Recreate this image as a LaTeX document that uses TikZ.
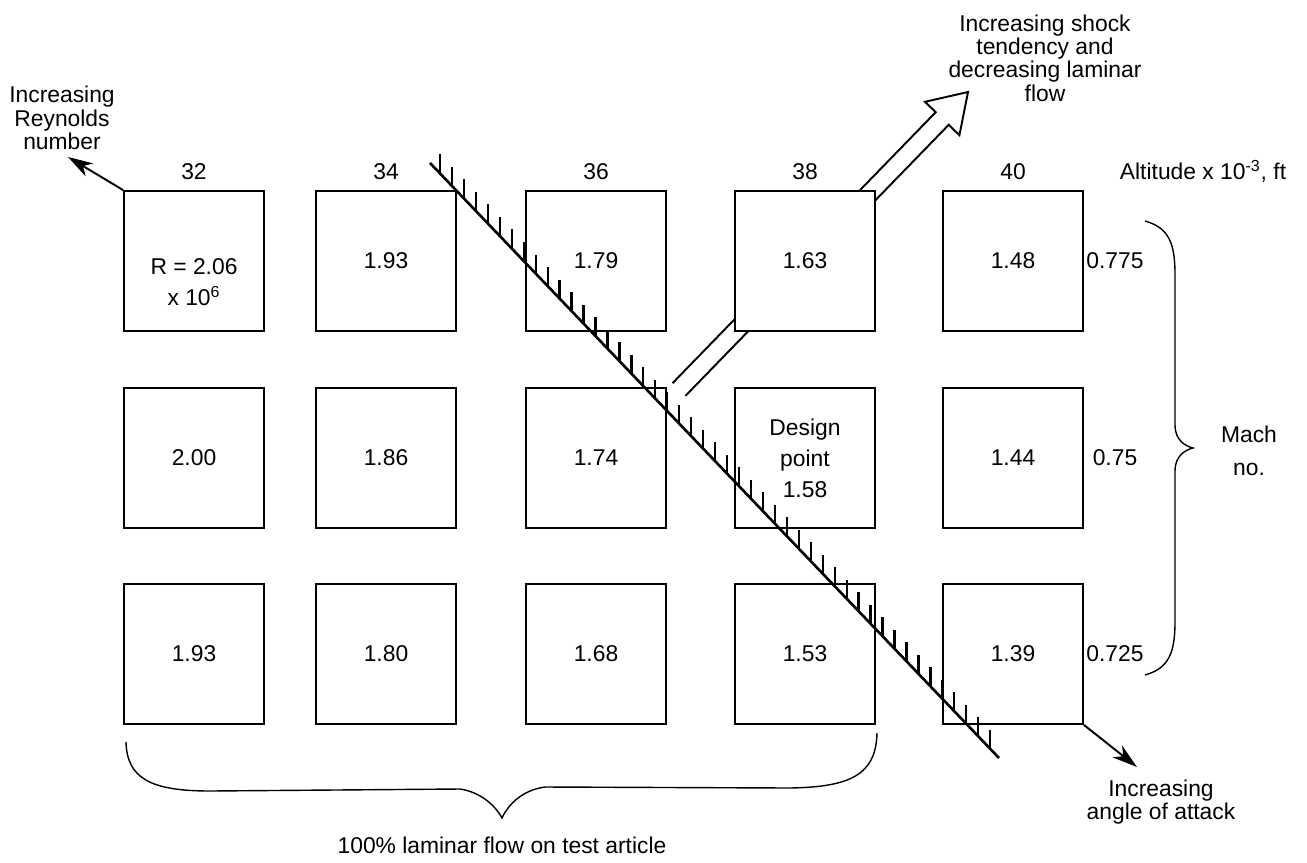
\documentclass[tikz,border=0pt]{standalone}
\usepackage{fontspec}
\setmainfont{Liberation Sans}
\usetikzlibrary{arrows.meta, positioning, calc, math}

\tikzset{
  cell/.style={draw, line width=1.1pt, fill=white, minimum width=2.8cm, minimum height=2.8cm, inner sep=0pt, align=center},
  wide/.style={align=center, font=\fontsize{13}{17.6}\selectfont},
  thinarrow/.style={line width=1.1pt, -{Stealth[length=5mm,width=3mm,inset=1.5mm]}},
  brace/.style={line width=0.8pt},
}

\begin{document}
\begin{tikzpicture}[x=0.02cm, y=-0.02cm, font=\fontsize{13}{13.3}\selectfont]
\tikzmath{
\ra=261; \rb=458; \rc=654;
}
\useasboundingbox (0,0) rectangle (1307,862);

% hollow arrow, behind the boxes
\draw[line width=1.1pt, line join=miter] (672.5,383.2) -- (935.7,112.2) -- (925,101.8) -- (968,92)
  -- (959.4,135.2) -- (948.7,124.8) -- (685.5,395.8);

%%%%%%%%%%   boxes
\node[cell] (b11) at (194,\ra) {};
\node[cell] (b12) at (386,\ra) {1.93};
\node[cell] (b13) at (596,\ra) {1.79};
\node[cell] (b14) at (805,\ra) {1.63};
\node[cell] (b15) at (1013,\ra) {1.48};

\node[cell] (b21) at (194,\rb) {2.00};
\node[cell] (b22) at (386,\rb) {1.86};
\node[cell] (b23) at (596,\rb) {1.74};
\node[cell, wide] (b24) at (805,\rb) {Design\\point\\1.58};
\node[cell] (b25) at (1013,\rb) {1.44};

\node[cell] (b31) at (194,\rc) {1.93};
\node[cell] (b32) at (386,\rc) {1.80};
\node[cell] (b33) at (596,\rc) {1.68};
\node[cell] (b34) at (805,\rc) {1.53};
\node[cell] (b35) at (1013,\rc) {1.39};

\node[wide] (rval) at ($(b11.center)+(0,21)$) {R = 2.06\\x 10\textsuperscript{6}};

%%%%%%%%%%   altitudes
\node[above=0.08cm of b11] (c32) {32};
\node[above=0.08cm of b12] (c34) {34};
\node[above=0.08cm of b13] (c36) {36};
\node[above=0.08cm of b14] (c38) {38};
\node[above=0.08cm of b15] (c40) {40};
\node[anchor=base] (alt) at ($(c40.base)+(190,0)$) {Altitude x 10\textsuperscript{-3}, ft};

%%%%%%%%%%   Mach numbers
\node (m1) at ($(b15.center)+(102,0)$) {0.775};
\node (m2) at ($(b25.center)+(102,0)$) {0.75};
\node (m3) at ($(b35.center)+(102,0)$) {0.725};
\draw[brace] (1145,221) .. controls (1170,228) and (1175,245) .. (1175,275) -- (1175,425)
  .. controls (1175,440) and (1185,446) .. (1193,448) .. controls (1185,450) and (1175,456) .. (1175,471)
  -- (1175,621) .. controls (1175,651) and (1170,668) .. (1145,675);
\node[align=center, font=\fontsize{13}{18.7}\selectfont] (mach) at (1249,451) {Mach\\no.};

%%%%%%%%%%   laminar flow
\draw[brace] (126,742) .. controls (127,778) and (150,791) .. (210,791) -- (460,789)
  .. controls (480,792) and (495,805) .. (502,818) .. controls (508,805) and (522,790) .. (545,787)
  -- (790,788) .. controls (850,787) and (876,775) .. (877,733);
\node (lam) at (502,845) {100\% laminar flow on test article};

%%%%%%%%%%   hatched boundary
\coordinate (h0) at (430,163);
\coordinate (h1) at (999,758);
\draw[line width=1.5pt] (h0) -- (h1);
\foreach \i [evaluate=\i as \f using (10+11.96*\i)/569] in {0,...,46}
  \draw[line width=1.3pt] ($(h0)!\f!(h1)$) -- ++(0,-19);

%%%%%%%%%%   trends
\coordinate (reytip) at (68,157);
\draw[thinarrow] (b11.north west) -- (reytip);
\node[align=center] (rey) at (62,118) {Increasing\\Reynolds\\number};

\node[align=center] (shock) at (1045,58) {Increasing shock\\tendency and\\decreasing laminar\\flow};

\coordinate (aoatip) at (1137,767);
\draw[thinarrow] (b35.south east) -- (aoatip);
\node[align=center] (aoa) at (1161,802) {Increasing\\angle of attack};
\end{tikzpicture}
\end{document}
